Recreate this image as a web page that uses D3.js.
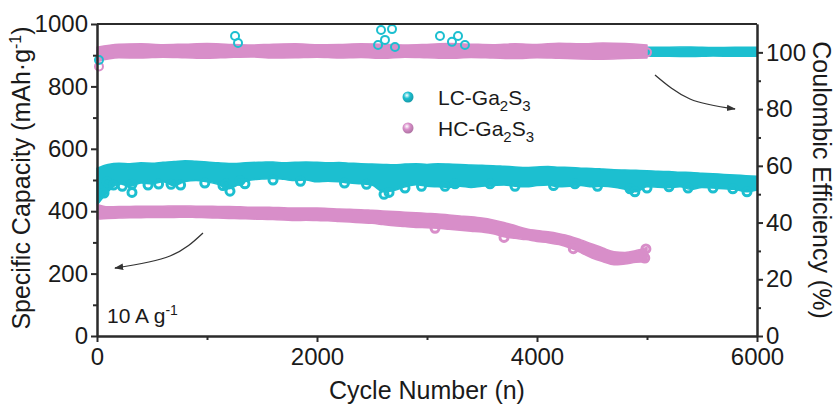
<!DOCTYPE html>
<html lang="en">
<head>
  <meta charset="UTF-8">
  <title>Cycling</title>
  <script src="https://d3js.org/d3.v7.min.js"></script>
  <style>
    body { margin: 0; background: #fff; }
    svg { font-family: "Liberation Sans", Arial, sans-serif; }
    .axis path, .axis line { stroke: #2b2b2b; stroke-width: 2; }
    .axis text { font-size: 24px; fill: #1a1a1a; font-family: "Liberation Sans", Arial, sans-serif; }
    .title { font-size: 25px; fill: #1a1a1a; }
  </style>
</head>
<body>
  <svg></svg>
  <script>
    // capacity bands, sampled every 100 cycles (upper / lower edge of the scatter cloud)
    const capStep = 100;
    const lcCapHigh = [538,550,554,552,555,554,557,559,562,560,558,555,553,554,556,557,558,555,557,558,
      557,555,556,554,552,551,550,549,551,552,550,552,551,550,548,547,546,544,542,540,
      542,543,541,540,538,537,535,533,532,531,530,528,527,525,524,522,520,518,516,514,512];
    const lcCapLow = [420,462,488,480,490,488,494,482,495,498,494,486,472,488,500,503,505,502,498,500,
      494,496,494,490,488,484,462,466,478,485,480,478,476,480,476,480,482,484,480,478,
      482,484,478,480,482,478,480,477,470,462,478,477,475,478,470,476,474,472,470,462,468];
    const hcCapHigh = [422,414,415,415,416,416,416,417,417,416,416,415,415,414,413,413,412,411,410,410,
      410,409,407,406,405,403,401,399,397,395,393,391,388,385,382,378,372,364,354,344,
      338,334,328,320,308,295,282,270,268,274,284];
    const hcCapLow = [375,377,378,379,379,380,380,380,381,380,379,378,377,376,375,374,373,372,370,371,
      370,369,367,365,363,361,357,353,351,348,347,345,342,339,336,333,328,318,313,309,
      303,299,293,282,267,250,238,228,231,236,238];
    // isolated low points [cycle, mAh/g]
    const lcCapDips = [[64,458],[91,494],[150,484],[230,480],[318,486],[318,460],[464,484],[560,487],
      [673,486],[760,484],[980,490],[1145,482],[1173,488],[1209,464],[1300,498],[1345,488],
      [1600,500],[1850,496],[2250,490],[2450,486],[2609,454],[2655,460],[2800,474],[2950,480],
      [3164,480],[3255,488],[3573,488],[3800,480],[4150,482],[4345,488],[4550,480],[4845,472],
      [4890,462],[5000,474],[5200,478],[5373,474],[5600,474],[5780,472],[5909,462]];
    const hcCapDips = [[3073,345],[3700,316],[4330,280],[4980,250],[4990,279]];

    // coulombic efficiency bands, sampled every 200 cycles
    const ceStep = 200;
    const hcCeHigh = [101.8,102.9,103.0,102.7,102.9,103.1,102.8,102.6,102.9,103.0,102.7,102.8,103.0,
      102.9,102.6,102.8,103.1,102.9,102.7,103.0,102.8,103.2,103.0,103.3,103.1,102.6];
    const hcCeLow = [96.8,98.1,98.0,98.3,98.1,97.9,98.2,98.4,98.0,98.1,98.3,98.0,98.2,97.9,98.3,98.1,
      97.9,98.2,98.0,97.8,98.1,97.9,97.7,97.6,97.8,98.0];
    const lcCeHigh = [100.5,101.8,101.9,101.7,101.8,101.9,101.8,101.7,101.9,101.8,101.8,101.9,101.7,
      101.8,101.9,101.8,101.7,101.8,101.9,101.8,101.8,101.9,101.8,101.7,101.9,101.8,101.8,101.9,
      101.7,101.8,101.8];
    const lcCeLow = [97.3,98.6,98.5,98.7,98.6,98.5,98.6,98.7,98.5,98.6,98.6,98.5,98.7,98.6,98.5,98.6,
      98.7,98.6,98.5,98.6,98.6,98.5,98.6,98.7,98.5,98.6,98.6,98.5,98.7,98.6,98.6];
    const lcCeOut = [[18,97.3],[1255,105.8],[1282,103.3],[2555,102.6],[2582,107.9],[2618,104.4],
      [2682,108.2],[2709,101.9],[3118,105.8],[3227,103.7],[3282,105.8],[3345,102.6]];
    const hcCeOut = [[18,95.0],[5000,100.0]];

    const xTicks = [0, 2000, 4000, 6000];
    const xMinor = [1000, 3000, 5000];
    const yLTicks = [0, 200, 400, 600, 800, 1000];
    const yLMinor = [100, 300, 500, 700, 900];
    const yRTicks = [0, 20, 40, 60, 80, 100];
    const yRMinor = [10, 30, 50, 70, 90];

    const cyan = '#1cbfd0';
    const pink = '#d88ec9';

    const width = 839, height = 408;
    const margin = { top: 24, right: 82, bottom: 72, left: 97 };
    const svg = d3.select('svg').attr('width', width).attr('height', height);
    const defs = svg.append('defs');

    const x = d3.scaleLinear().domain([0, 6000]).range([margin.left, width - margin.right]);
    const yL = d3.scaleLinear().domain([0, 1000]).range([height - margin.bottom, margin.top]);
    const yR = d3.scaleLinear().domain([0, 110]).range([height - margin.bottom, margin.top]);

    // dense scatter cloud drawn as the envelope between its upper and lower edges
    function band(high, low, step, y, color) {
      const pts = high.map((h, i) => ({ c: i * step, h: h, l: low[i] }));
      const area = d3.area().x(d => x(d.c)).y0(d => y(d.l)).y1(d => y(d.h)).curve(d3.curveMonotoneX);
      svg.append('path').datum(pts).attr('d', area).attr('fill', color)
        .attr('stroke', color).attr('stroke-width', 1.5).attr('stroke-linejoin', 'round');
    }
    function rings(data, y, color, sw) {
      svg.append('g').selectAll('circle').data(data).enter().append('circle')
        .attr('cx', d => x(d[0])).attr('cy', d => y(d[1])).attr('r', 4)
        .attr('fill', 'none').attr('stroke', color).attr('stroke-width', sw);
    }

    band(lcCapHigh, lcCapLow, capStep, yL, cyan);
    rings(lcCapDips, yL, cyan, 3);
    band(hcCapHigh, hcCapLow, capStep, yL, pink);
    rings(hcCapDips, yL, pink, 3);
    band(lcCeHigh, lcCeLow, ceStep, yR, cyan);
    band(hcCeHigh, hcCeLow, ceStep, yR, pink);
    rings(hcCeOut, yR, pink, 2);
    rings(lcCeOut, yR, cyan, 2);

    // axes
    const bottom = height - margin.bottom, right = width - margin.right;
    const fmt = d3.format('d');
    svg.append('line').attr('x1', margin.left).attr('x2', right).attr('y1', margin.top).attr('y2', margin.top)
      .attr('stroke', '#2b2b2b').attr('stroke-width', 2);
    svg.append('g').attr('class', 'axis').attr('transform', `translate(0,${bottom})`)
      .call(d3.axisBottom(x).tickValues(xTicks).tickFormat(fmt).tickSize(6).tickSizeOuter(0).tickPadding(6));
    svg.append('g').attr('class', 'axis').attr('transform', `translate(0,${bottom})`)
      .call(d3.axisBottom(x).tickValues(xMinor).tickSize(4).tickSizeOuter(0).tickFormat(''));
    svg.append('g').attr('class', 'axis').attr('transform', `translate(${margin.left},0)`)
      .call(d3.axisLeft(yL).tickValues(yLTicks).tickFormat(fmt).tickSize(6).tickSizeOuter(0).tickPadding(3));
    svg.append('g').attr('class', 'axis').attr('transform', `translate(${margin.left},0)`)
      .call(d3.axisLeft(yL).tickValues(yLMinor).tickSize(4).tickSizeOuter(0).tickFormat(''));
    svg.append('g').attr('class', 'axis').attr('transform', `translate(${right},0)`)
      .call(d3.axisRight(yR).tickValues(yRTicks).tickFormat(fmt).tickSize(6).tickSizeOuter(0).tickPadding(3));
    svg.append('g').attr('class', 'axis').attr('transform', `translate(${right},0)`)
      .call(d3.axisRight(yR).tickValues(yRMinor).tickSize(4).tickSizeOuter(0).tickFormat(''));

    // titles
    svg.append('text').attr('class', 'title').attr('x', 427).attr('y', 399)
      .attr('text-anchor', 'middle').text('Cycle Number (n)');
    const lt = svg.append('text').attr('class', 'title').attr('text-anchor', 'middle')
      .attr('transform', 'translate(30,178) rotate(-90)');
    lt.append('tspan').text('Specific Capacity (mAh·g');
    lt.append('tspan').attr('dy', -9).attr('font-size', 16).text('-1');
    lt.append('tspan').attr('dy', 9).text(')');
    svg.append('text').attr('class', 'title').attr('text-anchor', 'middle')
      .attr('transform', 'translate(813,180) rotate(90)').text('Coulombic Efficiency (%)');

    // current density note
    const note = svg.append('text').attr('x', 107).attr('y', 323).attr('font-size', 21).attr('fill', '#1a1a1a');
    note.append('tspan').text('10 A g');
    note.append('tspan').attr('dy', -8).attr('font-size', 14).text('-1');

    // legend
    const legend = [
      { name: 'LC', color: cyan, y: 99 },
      { name: 'HC', color: pink, y: 130 }
    ];
    legend.forEach((d, i) => {
      const grad = defs.append('radialGradient').attr('id', 'ball' + i)
        .attr('cx', '40%').attr('cy', '35%').attr('r', '65%');
      grad.append('stop').attr('offset', '0%').attr('stop-color', '#fff');
      grad.append('stop').attr('offset', '45%').attr('stop-color', d.color);
      grad.append('stop').attr('offset', '100%').attr('stop-color', d3.color(d.color).darker(0.6));
      svg.append('circle').attr('cx', 408).attr('cy', d.y - 2).attr('r', 5.5).attr('fill', `url(#ball${i})`);
      const t = svg.append('text').attr('x', 438).attr('y', d.y + 6).attr('font-size', 21).attr('fill', '#1a1a1a');
      t.append('tspan').text(d.name + '-Ga');
      t.append('tspan').attr('dy', 6).attr('font-size', 15).text('2');
      t.append('tspan').attr('dy', -6).text('S');
      t.append('tspan').attr('dy', 6).attr('font-size', 15).text('3');
    });

    // arrows pointing to the axes
    defs.append('marker').attr('id', 'head').attr('viewBox', '0 0 10 10').attr('refX', 9).attr('refY', 5)
      .attr('markerWidth', 7).attr('markerHeight', 7).attr('orient', 'auto-start-reverse')
      .append('path').attr('d', 'M0,1.5 L10,5 L0,8.5 Z').attr('fill', '#333');
    const curve = d3.line().curve(d3.curveNatural);
    svg.append('path').attr('d', curve([[203, 233], [170, 256], [115, 268]]))
      .attr('fill', 'none').attr('stroke', '#333').attr('stroke-width', 1.3).attr('marker-end', 'url(#head)');
    svg.append('path').attr('d', curve([[655, 75], [690, 99], [735, 109]]))
      .attr('fill', 'none').attr('stroke', '#333').attr('stroke-width', 1.3).attr('marker-end', 'url(#head)');
  </script>
</body>
</html>
